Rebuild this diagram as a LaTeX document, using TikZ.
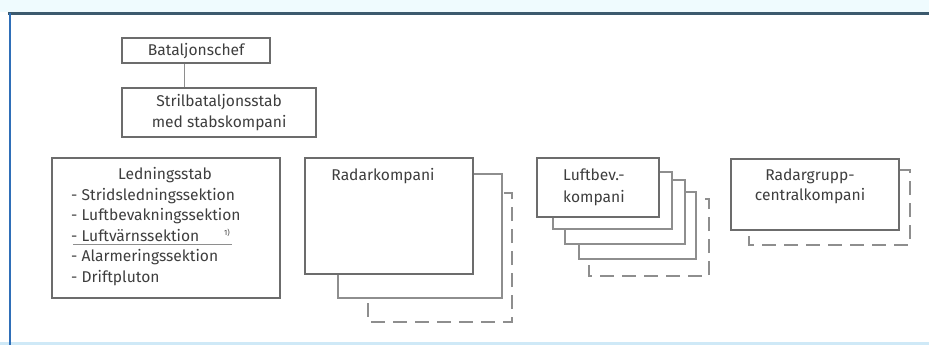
\documentclass[tikz,border=0pt]{standalone}
\usepackage{fontspec}
\setmainfont{Fira Sans}
\definecolor{frameblue}{HTML}{2F6FB8}
\definecolor{framedark}{HTML}{3C5A6E}
\definecolor{framelight}{HTML}{CFE9F7}
\definecolor{topband}{HTML}{EFFBFE}
\definecolor{mainline}{HTML}{6C6C6C}
\definecolor{backline}{HTML}{8E8E8E}
\definecolor{txt}{HTML}{3E3E3E}
\tikzset{
  mainbox/.style={draw=mainline, line width=2.2pt, fill=white, rectangle, inner sep=0pt},
  backbox/.style={draw=backline, line width=1.3pt, fill=white},
  dashbox/.style={draw=backline, line width=1.3pt, fill=white, dash pattern=on 14pt off 8pt},
  lbl/.style={text=txt, font=\fontsize{15.6}{21}\selectfont, inner sep=0pt},
  item/.style={lbl, anchor=base west},
  link/.style={draw=backline, line width=1pt}
}
\begin{document}
\begin{tikzpicture}[x=1pt, y=-1pt]
\useasboundingbox (0,0) rectangle (929,345);
% window frame
\fill[topband] (0,0) rectangle (929,12);
\fill[framelight] (0,342) rectangle (929,345);
\draw[framedark, line width=3pt] (8,13.5) -- (929,13.5);
\draw[frameblue, line width=2pt] (9.5,13) -- (9.5,345);

% top of the hierarchy
\node[mainbox, anchor=north west, minimum width=148pt, minimum height=25pt] (chef) at (121,37) {};
\node[lbl] (cheftxt) at (chef.center) {Bataljonschef};
\node[mainbox, anchor=north west, minimum width=194pt, minimum height=49pt] (stab) at (121,87) {};
\node[lbl, align=center] (stabtxt) at (stab.center) {Strilbataljonsstab\\med stabskompani};
\draw[link] ([xshift=-12pt]chef.south) -- ([xshift=-12pt]chef.south |- stab.north);

% Ledningsstab
\node[mainbox, anchor=north west, minimum width=228pt, minimum height=140pt] (ledn) at (51,157) {};
\node[lbl, anchor=base] (ledntitle) at (165,179) {Ledningsstab};
\node[item] (l1) at (71,200) {- Stridsledningssektion};
\node[item] (l2) at (71,220.5) {- Luftbevakningssektion};
\node[item] (l3) at (71,241) {- Luftvärnssektion};
\node[item] (l4) at (71,261.5) {- Alarmeringssektion};
\node[item] (l5) at (71,282) {- Driftpluton};
\node[lbl, font=\fontsize{7.5}{8}\selectfont] (note) at (227,233) {1)};
\draw[backline, line width=1.2pt] (73,244.5) -- (232,244.5);

% Radarkompani
\draw[dashbox] (368,193) rectangle (512,322);
\draw[backbox] (338,174) rectangle (502,298);
\node[mainbox, anchor=north west, minimum width=168pt, minimum height=116pt] (radar) at (304,157) {};
\node[lbl, anchor=base] (radartxt) at (383,180) {Radarkompani};

% Luftbevakningskompanier
\draw[dashbox] (589,199) rectangle (709,276);
\draw[backbox] (579,192) rectangle (696,259);
\draw[backbox] (565,180) rectangle (685,244);
\draw[backbox] (553,172) rectangle (672,229);
\node[mainbox, anchor=north west, minimum width=122pt, minimum height=59pt] (luft) at (536,157) {};
\node[item] (luft1) at (563,180) {Luftbev.-};
\node[item] (luft2) at (563,202) {kompani};

% Radargruppcentralkompani
\draw[dashbox] (749,170) rectangle (910,245);
\node[mainbox, anchor=north west, minimum width=168pt, minimum height=71pt] (rgc) at (730,158) {};
\node[lbl, anchor=base] (rgc1) at (810,180) {Radargrupp-};
\node[lbl, anchor=base] (rgc2) at (810,200) {centralkompani};
\end{tikzpicture}
\end{document}
